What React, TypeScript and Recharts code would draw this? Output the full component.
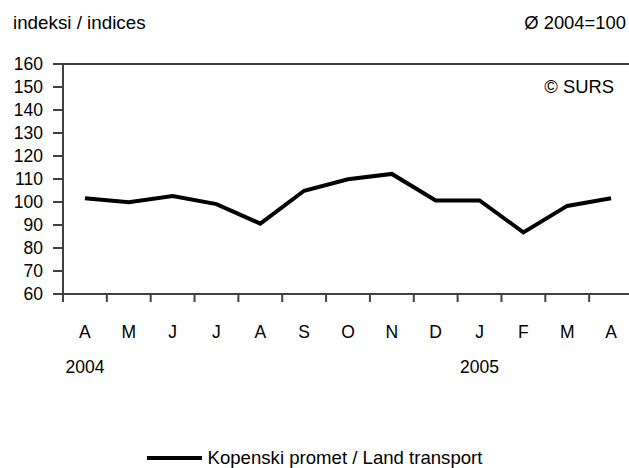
import React from "react";
import { LineChart, Line, XAxis, YAxis, ReferenceLine, Legend } from "recharts";

const months = ["A", "M", "J", "J", "A", "S", "O", "N", "D", "J", "F", "M", "A"];
const years: Record<number, string> = { 0: "2004", 9: "2005" };
const landTransport = [101.6, 99.9, 102.6, 99.1, 90.6, 104.9, 109.9, 112.2, 100.7, 100.7, 86.8, 98.3, 101.6];
const yTicks = [60, 70, 80, 90, 100, 110, 120, 130, 140, 150, 160];

const FONT = "'Liberation Sans', Arial, sans-serif";
const AXIS = "#404040";

const data = months.map((m, i) => ({ x: i + 0.5, month: m, value: landTransport[i] }));
const xTicks: number[] = [];
for (let i = 0; i <= months.length * 2; i++) xTicks.push(i / 2);

function MonthTick(props: any) {
  const { x, y, payload } = props;
  const v = Number(payload.value);
  if (Number.isInteger(v)) {
    return <line x1={x} x2={x} y1={y} y2={y + 8} stroke={AXIS} strokeWidth={2} />;
  }
  const idx = Math.floor(v);
  return (
    <g>
      <text x={x} y={y + 44} textAnchor="middle" fontSize={17.5} fill="#000" fontFamily={FONT}>
        {months[idx]}
      </text>
      {years[idx] && (
        <text x={x} y={y + 79} textAnchor="middle" fontSize={17.5} fill="#000" fontFamily={FONT}>
          {years[idx]}
        </text>
      )}
    </g>
  );
}

function LegendBox() {
  return (
    <div style={{ display: "flex", alignItems: "center", justifyContent: "center", fontFamily: FONT, fontSize: 18.6, color: "#000" }}>
      <svg width={61} height={10}>
        <line x1={0} x2={55} y1={5} y2={5} stroke="#000" strokeWidth={4} />
      </svg>
      <span>Kopenski promet / Land transport</span>
    </div>
  );
}

export default function App() {
  return (
    <div style={{ position: "fixed", left: 0, top: 0, width: 629, height: 468, overflow: "hidden", background: "#fff", fontFamily: FONT }}>
      <div style={{ position: "absolute", left: 13, top: 12, fontSize: 18.8 }}>indeksi / indices</div>
      <div style={{ position: "absolute", right: 3, top: 12, fontSize: 18.4 }}>Ø 2004=100</div>
      <div style={{ position: "absolute", right: 15, top: 76, fontSize: 18.4, zIndex: 2 }}>© SURS</div>
      <LineChart width={640} height={468} data={data} margin={{ top: 64, right: 7, bottom: 74, left: 0 }}>
        <XAxis
          dataKey="x"
          type="number"
          domain={[0, 13]}
          ticks={xTicks}
          interval={0}
          tickLine={false}
          tickSize={0}
          tickMargin={0}
          tick={<MonthTick />}
          axisLine={{ stroke: AXIS, strokeWidth: 2 }}
          height={100}
        />
        <YAxis
          domain={[60, 160]}
          ticks={yTicks}
          interval={0}
          width={63}
          tickSize={10}
          tickMargin={10}
          tickLine={{ stroke: AXIS, strokeWidth: 2 }}
          axisLine={{ stroke: AXIS, strokeWidth: 2 }}
          tick={{ fontSize: 17.5, fill: "#000", fontFamily: FONT }}
        />
        <ReferenceLine y={160} stroke={AXIS} strokeWidth={2} />
        <Line
          dataKey="value"
          stroke="#000"
          strokeWidth={4}
          dot={false}
          isAnimationActive={false}
          strokeLinejoin="miter"
        />
        <Legend
          layout="horizontal"
          verticalAlign="middle"
          align="center"
          content={<LegendBox />}
          wrapperStyle={{ top: 447, left: 0, width: 629 }}
        />
      </LineChart>
    </div>
  );
}
